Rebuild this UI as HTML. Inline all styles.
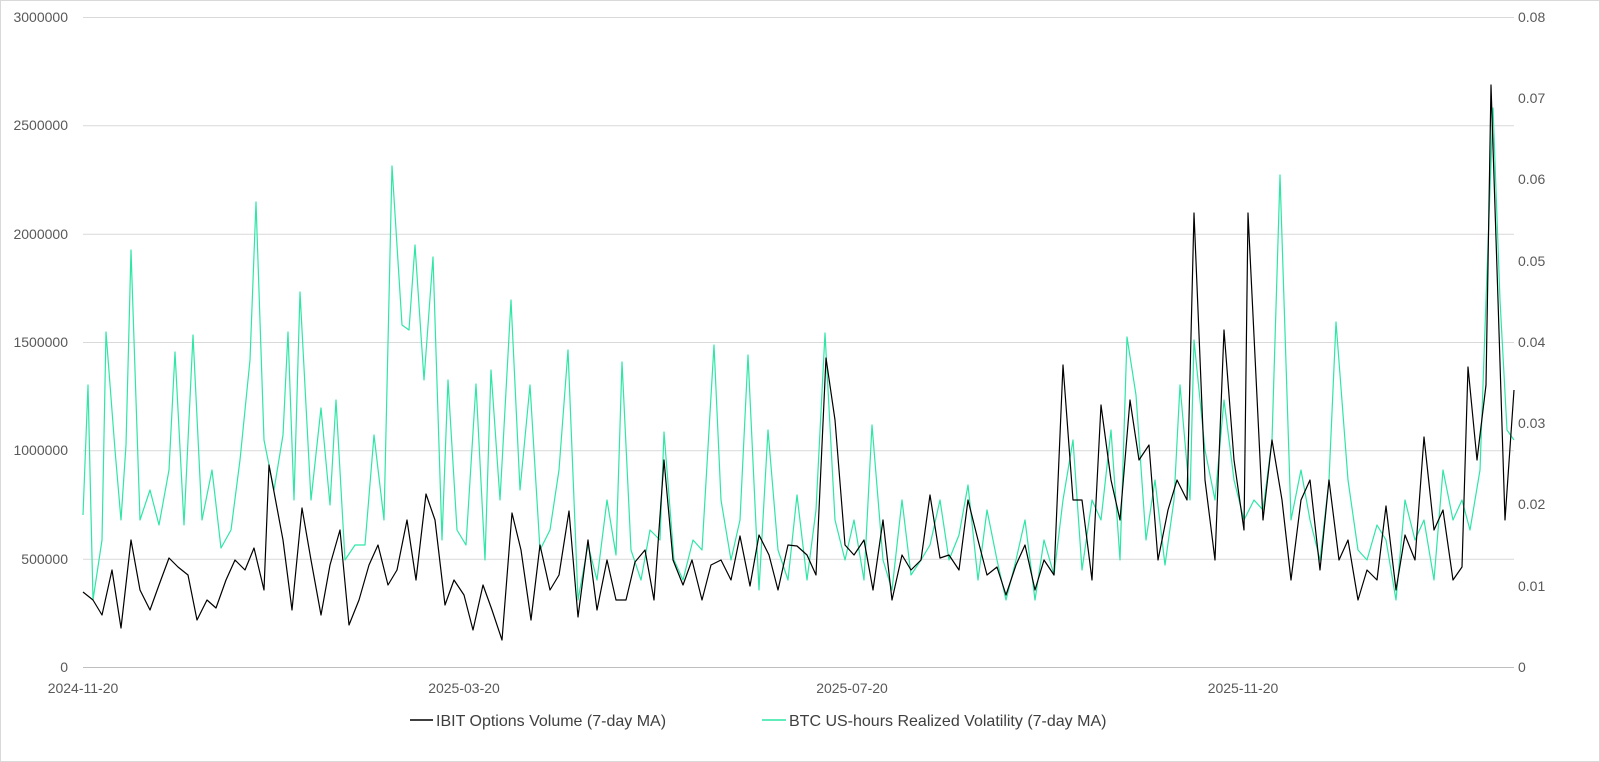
<!DOCTYPE html>
<html><head><meta charset="utf-8"><style>
html,body{margin:0;padding:0;background:#fff;}
svg{display:block;font-family:"Liberation Sans",sans-serif;}
</style></head><body>
<svg width="1600" height="762" viewBox="0 0 1600 762" xmlns="http://www.w3.org/2000/svg">
<rect x="0.5" y="0.5" width="1599" height="761" fill="#fff" stroke="#d9d9d9"/>
<g stroke="#d9d9d9" stroke-width="1">
<line x1="83" x2="1514" y1="17.5" y2="17.5"/>
<line x1="83" x2="1514" y1="125.8" y2="125.8"/>
<line x1="83" x2="1514" y1="234.2" y2="234.2"/>
<line x1="83" x2="1514" y1="342.5" y2="342.5"/>
<line x1="83" x2="1514" y1="450.8" y2="450.8"/>
<line x1="83" x2="1514" y1="559.2" y2="559.2"/>
</g>
<line x1="83" x2="1514" y1="667.5" y2="667.5" stroke="#bfbfbf"/>
<g fill="#595959" font-size="14" text-anchor="end">
<text x="68" y="22">3000000</text><text x="68" y="130">2500000</text><text x="68" y="239">2000000</text>
<text x="68" y="347">1500000</text><text x="68" y="455">1000000</text><text x="68" y="564">500000</text><text x="68" y="672">0</text>
</g>
<g fill="#595959" font-size="14">
<text x="1518" y="22">0.08</text><text x="1518" y="103">0.07</text><text x="1518" y="184">0.06</text><text x="1518" y="266">0.05</text>
<text x="1518" y="347">0.04</text><text x="1518" y="428">0.03</text><text x="1518" y="509">0.02</text><text x="1518" y="591">0.01</text><text x="1518" y="672">0</text>
</g>
<g fill="#595959" font-size="14" text-anchor="middle">
<text x="83" y="693">2024-11-20</text><text x="464" y="693">2025-03-20</text><text x="852" y="693">2025-07-20</text><text x="1243" y="693">2025-11-20</text>
</g>
<polyline fill="none" stroke="#2ee6a6" stroke-width="1.2" stroke-linejoin="round" points="83,515 88,385 93,600 102,540 106,332 115,450 121,520 126,445 131,250 140,520 150,490 159,525 169,470 175,352 184,525 193,335 202,520 212,470 221,548 231,530 240,460 250,360 256,202 264,440 274,490 283,435 288,332 294,500 300,292 311,500 321,408 330,505 336,400 345,560 355,545 365,545 374,435 384,520 392,166 402,325 409,330 415,245 424,380 433,257 442,540 448,380 457,530 466,545 476,384 485,560 491,370 500,500 511,300 520,490 530,385 540,550 550,530 559,470 568,350 578,600 588,545 597,580 607,500 616,555 622,362 631,550 641,580 650,530 660,540 664,432 674,560 683,580 693,540 702,550 714,345 721,500 731,560 740,520 748,355 759,590 768,430 778,550 788,580 797,495 807,580 816,510 825,333 835,520 845,560 854,520 864,580 872,425 883,560 892,590 902,500 911,575 921,560 930,545 940,500 949,560 959,535 968,485 978,580 987,510 997,560 1006,600 1016,560 1025,520 1035,600 1044,540 1054,575 1063,500 1073,440 1082,570 1092,500 1101,520 1111,430 1120,560 1127,337 1136,395 1146,540 1155,480 1165,565 1174,500 1180,385 1190,500 1194,340 1205,450 1215,500 1224,400 1234,480 1244,520 1254,500 1263,510 1272,440 1280,175 1291,520 1301,470 1310,520 1320,560 1329,480 1336,322 1348,480 1358,550 1367,560 1377,525 1386,540 1396,600 1405,500 1415,540 1424,520 1434,580 1443,470 1453,520 1462,500 1470,530 1480,470 1486,300 1493,108 1500,300 1507,430 1514,440"/>
<polyline fill="none" stroke="#000" stroke-width="1.2" stroke-linejoin="round" points="83,592 93,600 102,615 112,570 121,628 131,540 140,590 150,610 159,585 169,558 178,567 188,575 197,620 207,600 216,608 226,580 235,560 245,570 254,548 264,590 269,465 283,540 292,610 302,508 311,560 321,615 330,565 340,530 349,625 359,600 369,565 378,545 388,585 397,570 407,520 416,580 426,494 435,520 445,605 454,580 464,595 473,630 483,585 492,610 502,640 512,513 521,550 531,620 540,545 550,590 559,575 569,511 578,617 588,540 597,610 607,560 616,600 626,600 635,562 645,550 654,600 664,460 673,560 683,585 692,560 702,600 711,565 721,560 731,580 740,536 750,586 759,535 769,555 778,590 788,545 797,546 807,555 816,575 826,358 835,420 845,545 854,555 864,540 873,590 883,520 892,600 902,555 911,570 921,560 930,495 940,558 949,555 959,570 968,500 978,540 987,575 997,567 1006,595 1016,565 1025,545 1035,590 1044,560 1054,575 1063,365 1073,500 1082,500 1092,580 1101,405 1111,480 1120,520 1130,400 1139,460 1149,445 1158,560 1168,510 1177,480 1187,500 1194,213 1205,480 1215,560 1224,330 1234,460 1244,530 1248,213 1263,520 1272,440 1282,500 1291,580 1301,500 1310,480 1320,570 1329,480 1339,560 1348,540 1358,600 1367,570 1377,580 1386,506 1396,590 1405,535 1415,560 1424,437 1434,530 1443,510 1453,580 1462,567 1468,367 1477,460 1486,385 1491,85 1498,300 1505,520 1514,390"/>
<line x1="410" x2="433" y1="720" y2="720" stroke="#000" stroke-width="1.5"/>
<text x="436" y="726" font-size="16" fill="#404040">IBIT Options Volume (7-day MA)</text>
<line x1="762" x2="786" y1="720" y2="720" stroke="#2ee6a6" stroke-width="1.5"/>
<text x="789" y="726" font-size="16" fill="#404040">BTC US-hours Realized Volatility (7-day MA)</text>
</svg>
</body></html>
